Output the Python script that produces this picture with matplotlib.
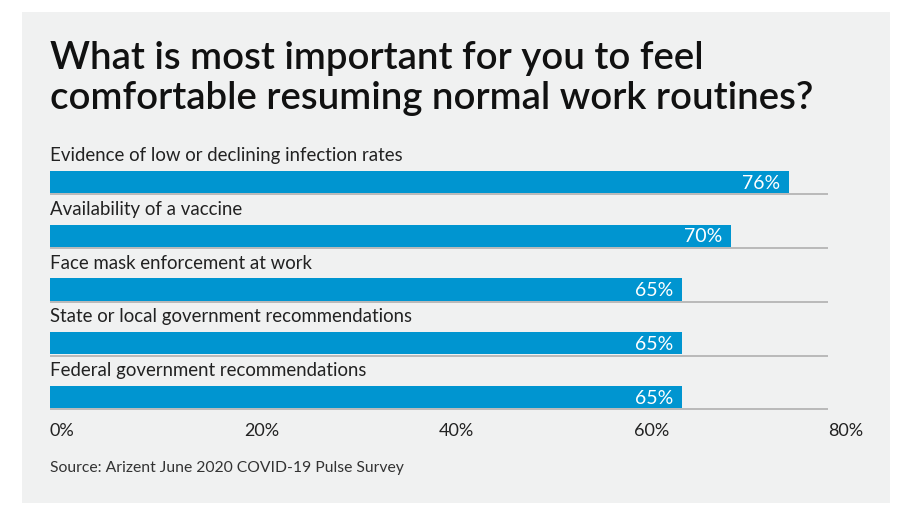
import matplotlib
matplotlib.use("Agg")
import matplotlib.pyplot as plt

categories = [
    "Evidence of low or declining infection rates",
    "Availability of a vaccine",
    "Face mask enforcement at work",
    "State or local government recommendations",
    "Federal government recommendations",
]
values = [76, 70, 65, 65, 65]
value_labels = ["76%", "70%", "65%", "65%", "65%"]
ticks = [0, 20, 40, 60, 80]
tick_labels = ["0%", "20%", "40%", "60%", "80%"]

title = "What is most important for you to feel\ncomfortable resuming normal work routines?"
source = "Source: Arizent June 2020 COVID-19 Pulse Survey"

plt.rcParams['font.family'] = ['Lato', 'DejaVu Sans']

W, H = 911, 511
fig = plt.figure(figsize=(W / 100, H / 100), dpi=100)
fig.patch.set_facecolor("white")

# grey panel behind everything
bg = fig.add_axes([22 / W, 1 - 503 / H, 868 / W, 491 / H], zorder=0)
bg.set_facecolor("#f0f1f1")
bg.set_xticks([])
bg.set_yticks([])
for s in bg.spines.values():
    s.set_visible(False)

ax = fig.add_axes([50 / W, 1 - 411.5 / H, 778 / W, 272.5 / H], zorder=1)
ax.set_facecolor("none")

bar_color = "#0095d0"
rows = list(range(len(categories)))
bar_h = 0.41
ax.barh(rows, values, height=bar_h, color=bar_color, zorder=2)
ax.hlines([r + bar_h / 2 + 0.025 for r in rows], 0, 80, color="#b0b0b0", lw=1.2, zorder=1)

for r, cat, v, lab in zip(rows, categories, values, value_labels):
    ax.text(0, r - 0.49, cat, ha="left", va="center", fontsize=13.4, color="#222222")
    ax.text(v - 0.9, r + 0.02, lab, ha="right", va="center", fontsize=14, color="white", zorder=3)

ax.set_xlim(0, 80)
ax.set_ylim(4.27, -0.8)
ax.set_xticks(ticks)
ax.set_xticklabels(tick_labels, ha="left", fontsize=13, color="#222222")
ax.tick_params(axis="x", length=0, pad=8)
ax.set_yticks([])
for s in ax.spines.values():
    s.set_visible(False)

fig.text(50 / W, 1 - 41 / H, title, ha="left", va="top", fontsize=27.6,
         fontweight="semibold", color="#111111", linespacing=1.18)
fig.text(50 / W, 1 - 468 / H, source, ha="left", va="center", fontsize=11.3, color="#333333")

fig.savefig("out.png", dpi=100, facecolor=fig.get_facecolor())
